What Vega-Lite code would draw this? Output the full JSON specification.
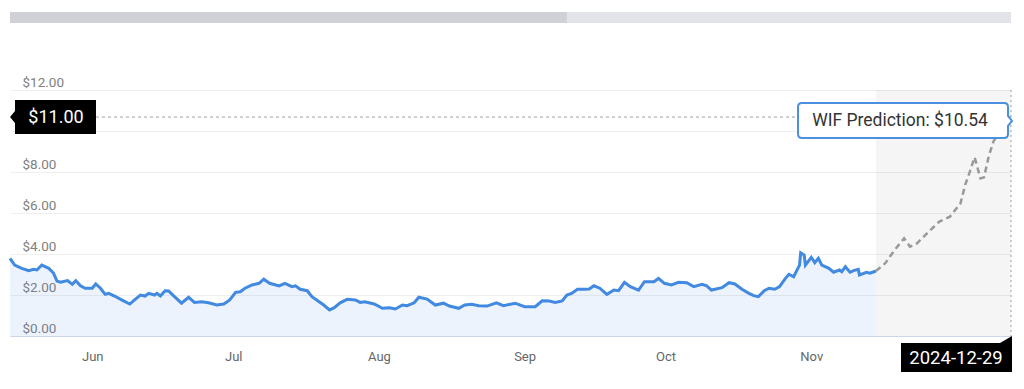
{
  "$schema": "https://vega.github.io/schema/vega-lite/v6.json",
  "background": "white",
  "padding": {"left": 4, "top": 12, "right": 0, "bottom": 0},
  "bounds": "flush",
  "spacing": 67,
  "config": {"font": "Roboto", "view": {"stroke": null}},
  "resolve": {"scale": {"x": "independent"}, "axis": {"x": "independent"}},
  "datasets": {
    "hist": [
      {"date": "2024-05-30T00:00", "price": 3.79},
      {"date": "2024-05-31T00:00", "price": 3.46},
      {"date": "2024-06-01T12:00", "price": 3.30},
      {"date": "2024-06-03T00:00", "price": 3.19},
      {"date": "2024-06-04T00:00", "price": 3.25},
      {"date": "2024-06-04T18:00", "price": 3.22},
      {"date": "2024-06-05T18:00", "price": 3.46},
      {"date": "2024-06-07T06:00", "price": 3.30},
      {"date": "2024-06-08T06:00", "price": 3.07},
      {"date": "2024-06-09T00:00", "price": 2.68},
      {"date": "2024-06-09T18:00", "price": 2.62},
      {"date": "2024-06-11T06:00", "price": 2.70},
      {"date": "2024-06-12T06:00", "price": 2.52},
      {"date": "2024-06-13T00:00", "price": 2.70},
      {"date": "2024-06-14T00:00", "price": 2.45},
      {"date": "2024-06-15T00:00", "price": 2.33},
      {"date": "2024-06-16T12:00", "price": 2.33},
      {"date": "2024-06-17T06:00", "price": 2.54},
      {"date": "2024-06-18T06:00", "price": 2.33},
      {"date": "2024-06-19T06:00", "price": 2.03},
      {"date": "2024-06-20T00:00", "price": 2.08},
      {"date": "2024-06-21T06:00", "price": 1.95},
      {"date": "2024-06-22T18:00", "price": 1.76},
      {"date": "2024-06-24T12:00", "price": 1.56},
      {"date": "2024-06-25T12:00", "price": 1.76},
      {"date": "2024-06-26T18:00", "price": 2.00},
      {"date": "2024-06-27T18:00", "price": 1.95},
      {"date": "2024-06-28T12:00", "price": 2.08},
      {"date": "2024-06-29T18:00", "price": 2.00},
      {"date": "2024-06-30T06:00", "price": 2.08},
      {"date": "2024-07-01T00:00", "price": 1.95},
      {"date": "2024-07-02T00:00", "price": 2.21},
      {"date": "2024-07-02T18:00", "price": 2.20},
      {"date": "2024-07-04T00:00", "price": 1.92},
      {"date": "2024-07-05T12:00", "price": 1.60},
      {"date": "2024-07-07T00:00", "price": 1.89},
      {"date": "2024-07-08T06:00", "price": 1.64},
      {"date": "2024-07-09T18:00", "price": 1.67},
      {"date": "2024-07-11T06:00", "price": 1.62},
      {"date": "2024-07-13T00:00", "price": 1.51},
      {"date": "2024-07-14T12:00", "price": 1.56},
      {"date": "2024-07-15T18:00", "price": 1.76},
      {"date": "2024-07-17T00:00", "price": 2.13},
      {"date": "2024-07-18T00:00", "price": 2.16},
      {"date": "2024-07-19T00:00", "price": 2.33},
      {"date": "2024-07-20T12:00", "price": 2.49},
      {"date": "2024-07-22T00:00", "price": 2.57},
      {"date": "2024-07-23T00:00", "price": 2.77},
      {"date": "2024-07-24T06:00", "price": 2.57},
      {"date": "2024-07-26T06:00", "price": 2.44},
      {"date": "2024-07-27T12:00", "price": 2.57},
      {"date": "2024-07-29T00:00", "price": 2.41},
      {"date": "2024-07-29T18:00", "price": 2.45},
      {"date": "2024-07-30T18:00", "price": 2.28},
      {"date": "2024-08-01T06:00", "price": 2.21},
      {"date": "2024-08-02T06:00", "price": 1.92},
      {"date": "2024-08-03T06:00", "price": 1.76},
      {"date": "2024-08-04T18:00", "price": 1.51},
      {"date": "2024-08-06T00:00", "price": 1.27},
      {"date": "2024-08-07T00:00", "price": 1.38},
      {"date": "2024-08-08T06:00", "price": 1.62},
      {"date": "2024-08-09T18:00", "price": 1.79},
      {"date": "2024-08-11T12:00", "price": 1.76},
      {"date": "2024-08-12T12:00", "price": 1.64},
      {"date": "2024-08-13T12:00", "price": 1.67},
      {"date": "2024-08-15T12:00", "price": 1.56},
      {"date": "2024-08-17T06:00", "price": 1.35},
      {"date": "2024-08-18T18:00", "price": 1.38},
      {"date": "2024-08-20T00:00", "price": 1.32},
      {"date": "2024-08-21T12:00", "price": 1.51},
      {"date": "2024-08-22T12:00", "price": 1.48},
      {"date": "2024-08-24T00:00", "price": 1.62},
      {"date": "2024-08-25T00:00", "price": 1.89},
      {"date": "2024-08-26T18:00", "price": 1.80},
      {"date": "2024-08-28T12:00", "price": 1.51},
      {"date": "2024-08-30T06:00", "price": 1.60},
      {"date": "2024-08-31T12:00", "price": 1.46},
      {"date": "2024-09-02T12:00", "price": 1.35},
      {"date": "2024-09-03T18:00", "price": 1.51},
      {"date": "2024-09-05T06:00", "price": 1.55},
      {"date": "2024-09-06T18:00", "price": 1.48},
      {"date": "2024-09-08T12:00", "price": 1.46},
      {"date": "2024-09-10T12:00", "price": 1.62},
      {"date": "2024-09-12T00:00", "price": 1.48},
      {"date": "2024-09-14T12:00", "price": 1.60},
      {"date": "2024-09-16T12:00", "price": 1.43},
      {"date": "2024-09-18T18:00", "price": 1.43},
      {"date": "2024-09-20T06:00", "price": 1.72},
      {"date": "2024-09-21T18:00", "price": 1.71},
      {"date": "2024-09-23T00:00", "price": 1.64},
      {"date": "2024-09-24T12:00", "price": 1.71},
      {"date": "2024-09-25T12:00", "price": 2.00},
      {"date": "2024-09-26T12:00", "price": 2.08},
      {"date": "2024-09-27T18:00", "price": 2.28},
      {"date": "2024-09-29T06:00", "price": 2.28},
      {"date": "2024-09-30T06:00", "price": 2.29},
      {"date": "2024-10-01T06:00", "price": 2.45},
      {"date": "2024-10-02T12:00", "price": 2.33},
      {"date": "2024-10-04T00:00", "price": 2.03},
      {"date": "2024-10-05T12:00", "price": 2.24},
      {"date": "2024-10-06T12:00", "price": 2.21},
      {"date": "2024-10-07T18:00", "price": 2.62},
      {"date": "2024-10-09T00:00", "price": 2.41},
      {"date": "2024-10-10T18:00", "price": 2.24},
      {"date": "2024-10-12T00:00", "price": 2.65},
      {"date": "2024-10-14T00:00", "price": 2.65},
      {"date": "2024-10-15T00:00", "price": 2.81},
      {"date": "2024-10-16T06:00", "price": 2.57},
      {"date": "2024-10-17T18:00", "price": 2.49},
      {"date": "2024-10-19T06:00", "price": 2.62},
      {"date": "2024-10-21T00:00", "price": 2.60},
      {"date": "2024-10-22T12:00", "price": 2.41},
      {"date": "2024-10-24T06:00", "price": 2.52},
      {"date": "2024-10-25T06:00", "price": 2.45},
      {"date": "2024-10-26T06:00", "price": 2.24},
      {"date": "2024-10-28T12:00", "price": 2.36},
      {"date": "2024-10-30T00:00", "price": 2.60},
      {"date": "2024-10-31T06:00", "price": 2.54},
      {"date": "2024-11-01T18:00", "price": 2.28},
      {"date": "2024-11-03T06:00", "price": 2.08},
      {"date": "2024-11-04T06:00", "price": 1.97},
      {"date": "2024-11-05T06:00", "price": 1.92},
      {"date": "2024-11-06T12:00", "price": 2.21},
      {"date": "2024-11-07T12:00", "price": 2.33},
      {"date": "2024-11-08T18:00", "price": 2.28},
      {"date": "2024-11-09T18:00", "price": 2.41},
      {"date": "2024-11-11T00:00", "price": 2.81},
      {"date": "2024-11-11T18:00", "price": 3.01},
      {"date": "2024-11-12T18:00", "price": 2.89},
      {"date": "2024-11-14T00:00", "price": 3.46},
      {"date": "2024-11-14T06:00", "price": 4.06},
      {"date": "2024-11-15T00:00", "price": 3.95},
      {"date": "2024-11-15T06:00", "price": 3.46},
      {"date": "2024-11-16T12:00", "price": 3.84},
      {"date": "2024-11-17T06:00", "price": 3.58},
      {"date": "2024-11-18T00:00", "price": 3.79},
      {"date": "2024-11-18T18:00", "price": 3.46},
      {"date": "2024-11-20T06:00", "price": 3.30},
      {"date": "2024-11-21T06:00", "price": 3.11},
      {"date": "2024-11-22T12:00", "price": 3.22},
      {"date": "2024-11-23T00:00", "price": 3.14},
      {"date": "2024-11-23T18:00", "price": 3.38},
      {"date": "2024-11-24T18:00", "price": 3.11},
      {"date": "2024-11-25T12:00", "price": 3.19},
      {"date": "2024-11-26T12:00", "price": 3.25},
      {"date": "2024-11-26T18:00", "price": 2.98},
      {"date": "2024-11-28T06:00", "price": 3.11},
      {"date": "2024-11-29T00:00", "price": 3.06},
      {"date": "2024-11-30T06:00", "price": 3.17}
    ],
    "pred": [
      {"date": "2024-11-30T06:00", "price": 3.17},
      {"date": "2024-12-02T06:00", "price": 3.55},
      {"date": "2024-12-04T06:00", "price": 4.20},
      {"date": "2024-12-06T06:00", "price": 4.76},
      {"date": "2024-12-07T12:00", "price": 4.36},
      {"date": "2024-12-09T00:00", "price": 4.52},
      {"date": "2024-12-11T12:00", "price": 5.09},
      {"date": "2024-12-13T18:00", "price": 5.58},
      {"date": "2024-12-16T00:00", "price": 5.82},
      {"date": "2024-12-18T06:00", "price": 6.47},
      {"date": "2024-12-19T06:00", "price": 7.37},
      {"date": "2024-12-20T06:00", "price": 8.02},
      {"date": "2024-12-21T06:00", "price": 8.72},
      {"date": "2024-12-22T12:00", "price": 7.69},
      {"date": "2024-12-23T06:00", "price": 7.74},
      {"date": "2024-12-24T06:00", "price": 8.75},
      {"date": "2024-12-25T06:00", "price": 9.48},
      {"date": "2024-12-26T12:00", "price": 9.97},
      {"date": "2024-12-29T00:00", "price": 10.54}
    ]
  },
  "vconcat": [
    {
      "width": 1001,
      "height": 11,
      "data": {"values": [{}]},
      "layer": [
        {"mark": {"type": "rect", "color": "#e3e4ea"}, "encoding": {}},
        {
          "mark": {"type": "rect", "color": "#cfd1d6"},
          "encoding": {
            "x": {"datum": {"year": 2024, "month": 5, "date": 30}, "type": "temporal",
                  "scale": {"domain": [{"year": 2024, "month": 5, "date": 30}, {"year": 2024, "month": 12, "date": 29}], "nice": false},
                  "axis": null},
            "x2": {"datum": {"year": 2024, "month": 9, "date": 25, "hours": 12}}
          }
        }
      ]
    },
    {
      "width": 1001,
      "height": 246,
      "layer": [
        {
          "data": {"name": "pred"},
          "mark": {"type": "rect", "color": "#000000", "opacity": 0.04},
          "encoding": {
            "x": {"aggregate": "min", "field": "date", "type": "temporal",
                  "scale": {"domain": [{"year": 2024, "month": 5, "date": 30}, {"year": 2024, "month": 12, "date": 29}], "nice": false},
                  "axis": {
                    "title": null,
                    "values": [
                      {"year": 2024, "month": 6, "date": 16, "hours": 12},
                      {"year": 2024, "month": 7, "date": 16, "hours": 12},
                      {"year": 2024, "month": 8, "date": 16, "hours": 12},
                      {"year": 2024, "month": 9, "date": 16, "hours": 12},
                      {"year": 2024, "month": 10, "date": 16, "hours": 12},
                      {"year": 2024, "month": 11, "date": 16, "hours": 12}
                    ],
                    "format": "%b",
                    "grid": false,
                    "ticks": false,
                    "tickSize": 0,
                    "labelPadding": 14,
                    "labelFontSize": 13,
                    "labelColor": "#666666",
                    "domainColor": "#ccd6eb",
                    "labelFlush": false,
                    "labelOverlap": false
                  }},
            "x2": {"aggregate": "max", "field": "date"}
          }
        },
        {
          "data": {"name": "hist"},
          "mark": {"type": "area", "color": "#4189e1", "opacity": 0.1},
          "encoding": {
            "x": {"field": "date", "type": "temporal"},
            "y": {"field": "price", "type": "quantitative",
                  "scale": {"domain": [0, 12], "nice": false},
                  "axis": {
                    "title": null,
                    "values": [0, 2, 4, 6, 8, 10, 12],
                    "format": "$.2f",
                    "labelExpr": "datum.value == 10 ? '' : datum.label",
                    "ticks": false,
                    "tickSize": 0,
                    "domain": false,
                    "labelAlign": "left",
                    "labelBaseline": "alphabetic",
                    "labelPadding": -12,
                    "labelOffset": -4,
                    "labelFontSize": 13.5,
                    "labelColor": "#808080",
                    "gridColor": "#efefef",
                    "zindex": 0
                  }}
          }
        },
        {
          "data": {"name": "hist"},
          "mark": {"type": "line", "color": "#4189e1", "strokeWidth": 3},
          "encoding": {
            "x": {"field": "date", "type": "temporal"},
            "y": {"field": "price", "type": "quantitative"}
          }
        },
        {
          "data": {"name": "pred"},
          "mark": {"type": "line", "color": "#999999", "strokeWidth": 2.5, "strokeDash": [6, 4]},
          "encoding": {
            "x": {"field": "date", "type": "temporal"},
            "y": {"field": "price", "type": "quantitative"}
          }
        },
        {
          "data": {"values": [{}]},
          "mark": {"type": "rule", "color": "#a0a0a0", "strokeWidth": 1, "strokeDash": [3, 3]},
          "encoding": {"y": {"datum": 10.68}}
        },
        {
          "data": {"values": [{}]},
          "mark": {"type": "rule", "color": "#9e9e9e", "strokeWidth": 1, "strokeDash": [2, 3]},
          "encoding": {"x": {"datum": {"year": 2024, "month": 12, "date": 29}, "type": "temporal"}}
        },
        {
          "data": {"values": [{}]},
          "mark": {"type": "point", "shape": "M0,0 L0.5,-0.6 L0.5,-1.7 L8.6,-1.7 L8.6,1.7 L0.5,1.7 L0.5,0.6 Z", "size": 400, "filled": true, "fill": "#000000", "strokeWidth": 0, "opacity": 1},
          "encoding": {
            "x": {"datum": {"year": 2024, "month": 5, "date": 30}, "type": "temporal"},
            "y": {"datum": 10.68}
          }
        },
        {
          "data": {"values": [{}]},
          "mark": {"type": "text", "text": "$11.00", "fontSize": 18, "color": "#ffffff", "align": "center", "baseline": "middle", "dx": 46, "dy": 1},
          "encoding": {
            "x": {"datum": {"year": 2024, "month": 5, "date": 30}, "type": "temporal"},
            "y": {"datum": 10.68}
          }
        },
        {
          "data": {"values": [{}]},
          "mark": {"type": "point", "shape": "M-20.9,-1.7 L-0.7,-1.7 Q-0.3,-1.7 -0.3,-1.3 L-0.3,-0.4 L0.1,0.1 L-0.3,0.6 L-0.3,1.4 Q-0.3,1.8 -0.7,1.8 L-20.9,1.8 Q-21.3,1.8 -21.3,1.4 L-21.3,-1.3 Q-21.3,-1.7 -20.9,-1.7 Z", "size": 400, "filled": true, "fill": "#ffffff", "stroke": "#4a8fe0", "strokeWidth": 2, "opacity": 1},
          "encoding": {
            "x": {"datum": {"year": 2024, "month": 12, "date": 29}, "type": "temporal"},
            "y": {"datum": 10.54}
          }
        },
        {
          "data": {"values": [{}]},
          "mark": {"type": "text", "text": "WIF Prediction: $10.54", "fontSize": 17.5, "color": "#333333", "align": "center", "baseline": "middle", "dx": -111, "dy": 1},
          "encoding": {
            "x": {"datum": {"year": 2024, "month": 12, "date": 29}, "type": "temporal"},
            "y": {"datum": 10.54}
          }
        },
        {
          "data": {"values": [{}]},
          "mark": {"type": "point", "shape": "M0.1,0 L0.1,0.7 L-1.1,0.7 Z M-11,0.7 L0.1,0.7 L0.1,3.6 L-11,3.6 Z", "size": 400, "filled": true, "fill": "#000000", "strokeWidth": 0, "opacity": 1},
          "encoding": {
            "x": {"datum": {"year": 2024, "month": 12, "date": 29}, "type": "temporal"},
            "y": {"datum": 0}
          }
        },
        {
          "data": {"values": [{}]},
          "mark": {"type": "text", "text": "2024-12-29", "fontSize": 18.5, "color": "#ffffff", "align": "center", "baseline": "middle", "dx": -55, "dy": 22},
          "encoding": {
            "x": {"datum": {"year": 2024, "month": 12, "date": 29}, "type": "temporal"},
            "y": {"datum": 0}
          }
        }
      ]
    }
  ]
}
